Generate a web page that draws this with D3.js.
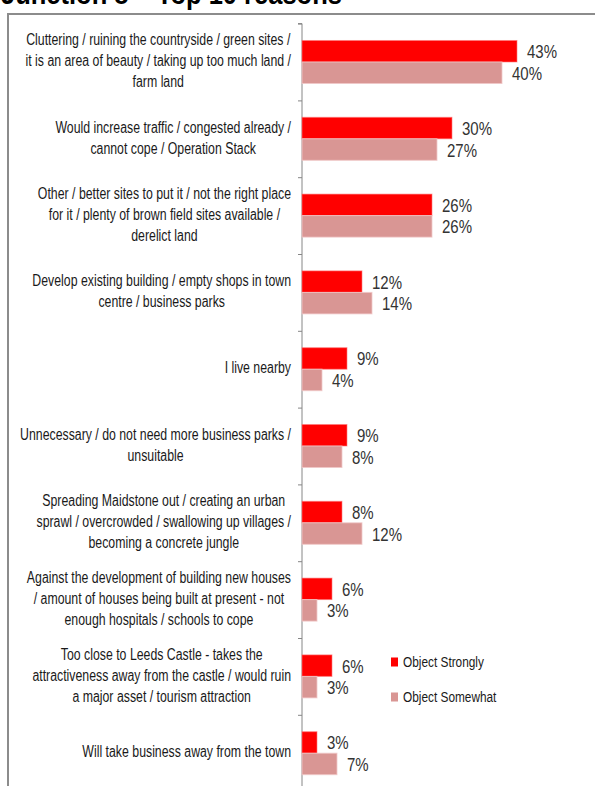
<!DOCTYPE html>
<html><head><meta charset="utf-8">
<script src="https://cdn.jsdelivr.net/npm/d3@7"></script>
<style>
html,body{margin:0;padding:0;background:#fff;}
svg{display:block;}
</style></head>
<body>
<svg id="chart" width="595" height="786"></svg>
<script>
const title = "Junction 8 – Top 10 reasons";
const categories = [
  ["Cluttering / ruining the countryside / green sites /", "it is an area of beauty / taking up too much land /", "farm land"],
  ["Would increase traffic / congested already /", "cannot cope / Operation Stack"],
  ["Other / better sites to put it / not the right place", "for it / plenty of brown field sites available /", "derelict land"],
  ["Develop existing building / empty shops in town", "centre / business parks"],
  ["I live nearby"],
  ["Unnecessary / do not need more business parks /", "unsuitable"],
  ["Spreading Maidstone out / creating an urban", "sprawl / overcrowded / swallowing up villages /", "becoming a concrete jungle"],
  ["Against the development of building new houses", "/ amount of houses being built at present - not", "enough hospitals / schools  to cope"],
  ["Too close to Leeds Castle - takes the", "attractiveness away from the castle / would ruin", "a major asset / tourism attraction"],
  ["Will take business away from the town"]
];
const seriesNames = ["Object Strongly", "Object Somewhat"];
const objectStrongly = [43, 30, 26, 12, 9, 9, 8, 6, 6, 3];
const objectSomewhat = [40, 27, 26, 14, 4, 8, 12, 3, 3, 7];
const colors = ["#FF0000", "#D99694"];

const svg = d3.select("#chart");
const font = "'Liberation Sans', Arial, sans-serif";
const K = 0.77; // horizontal condensing of the narrow font

function ctext(parent, x, y, str, size, k, fill, anchor) {
  return parent.append("text")
    .attr("transform", `translate(${x},${y}) scale(${k},1)`)
    .attr("font-family", font).attr("font-size", size).attr("fill", fill)
    .attr("text-anchor", anchor || "start")
    .attr("dominant-baseline", "middle")
    .text(str);
}

// title (partially cropped at top)
svg.append("text").attr("transform", "translate(1,4) scale(0.85,1)")
  .attr("font-family", font)
  .attr("font-weight", "bold").attr("font-size", 30).attr("fill", "#000")
  .text(title);

// chart frame
svg.append("rect").attr("x", 8).attr("y", 14).attr("width", 600).attr("height", 800)
  .attr("fill", "none").attr("stroke", "#8c8c8c").attr("stroke-width", 2);

const x = d3.scaleLinear().domain([0, 50]).range([302, 552]);
const y = d3.scaleBand().domain(d3.range(categories.length)).range([23.6, 791.6]).paddingInner(0.44).paddingOuter(0.22);
const sub = d3.scaleBand().domain([0, 1]).range([0, y.bandwidth()]);

// axis
const yAxis = d3.axisLeft(d3.scaleLinear().domain([0, categories.length]).range([23.6, 791.6]))
  .tickValues(d3.range(categories.length + 1)).tickSize(4).tickFormat("");
const ag = svg.append("g").attr("transform", "translate(302,0)").call(yAxis);
ag.selectAll("path,line").attr("stroke", "#868686").attr("stroke-width", 1);
ag.select(".domain").attr("d", "M-4,23.6H0V791.6");

const series = [objectStrongly, objectSomewhat];
series.forEach((vals, si) => {
  const g = svg.append("g");
  g.selectAll("rect").data(vals).join("rect")
    .attr("x", x(0))
    .attr("y", (d, i) => y(i) + sub(si))
    .attr("width", d => x(d) - x(0))
    .attr("height", sub.bandwidth())
    .attr("fill", colors[si])
    .attr("stroke", si === 0 ? "rgba(255,120,120,0.6)" : "rgba(240,200,200,0.8)")
    .attr("stroke-width", 1);
  vals.forEach((d, i) => {
    ctext(g, x(d) + 10, y(i) + sub(si) + sub.bandwidth() / 2 + 2, d + "%", 19, 0.79, "#333333");
  });
});

// category labels: block right-aligned at 291, lines centered within block
const lineH = 21;
categories.forEach((lines, i) => {
  const cy = y(i) + y.bandwidth() / 2;
  const tmp = lines.map((ln, k) => ctext(svg, 0, cy + (k - (lines.length - 1) / 2) * lineH, ln, 16, K, "#1a1a1a", "middle"));
  let maxW = 0;
  tmp.forEach(t => { maxW = Math.max(maxW, t.node().getComputedTextLength() * K); });
  const cx = 291 - maxW / 2;
  tmp.forEach((t, k) => t.attr("transform", `translate(${cx},${cy + (k - (lines.length - 1) / 2) * lineH}) scale(${K},1)`));
});

// legend
const legY = [662, 697];
seriesNames.forEach((n, k) => {
  svg.append("rect").attr("x", 391).attr("y", legY[k] - 4.5).attr("width", 7).attr("height", 9).attr("fill", colors[k]);
  ctext(svg, 403, legY[k] + 1, n, 15, 0.79, "#1a1a1a");
});
</script>
</body></html>
